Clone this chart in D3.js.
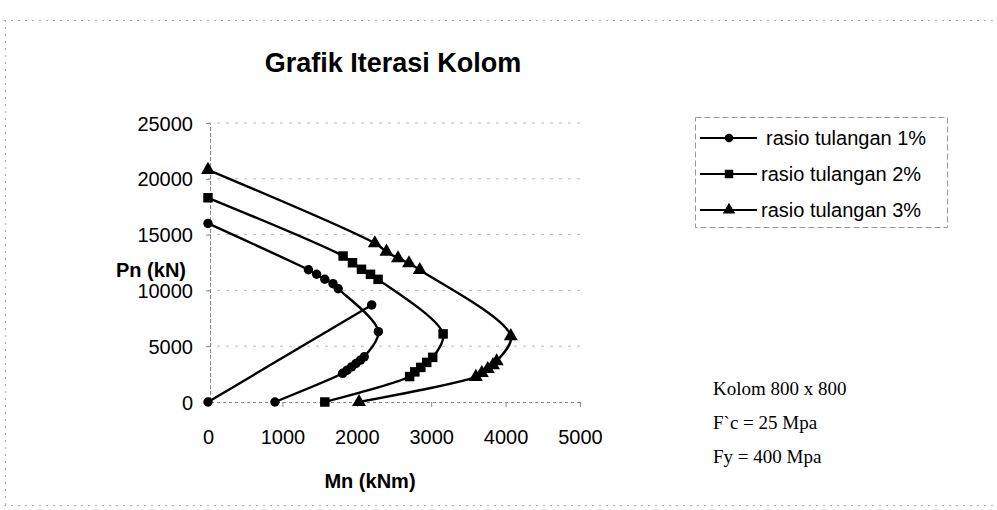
<!DOCTYPE html>
<html>
<head>
<meta charset="utf-8">
<script src="https://cdn.jsdelivr.net/npm/d3@7"></script>
<style>
  html, body { margin: 0; padding: 0; background: #fff; }
  svg { display: block; }
</style>
</head>
<body>
<svg id="chart" width="997" height="510"></svg>
<script>
// ---- Data (Mn in kNm, Pn in kN) ----
const seriesNames = ["rasio tulangan 1%", "rasio tulangan 2%", "rasio tulangan 3%"];
const series1Mn = [0, 1350, 1460, 1570, 1680, 1750, 2290, 2100, 2050, 1990, 1930, 1870, 1810, 900];
const series1Pn = [16000, 11850, 11450, 11000, 10600, 10150, 6300, 4050, 3750, 3450, 3150, 2850, 2570, 0];
const series1bMn = [0, 2200];
const series1bPn = [0, 8700];
const series2Mn = [0, 1816, 1942, 2063, 2184, 2286, 3160, 3020, 2940, 2860, 2780, 2710, 1570];
const series2Pn = [18300, 13080, 12480, 11890, 11440, 10990, 6100, 4000, 3550, 3100, 2700, 2280, 0];
const series3Mn = [0, 2242, 2399, 2554, 2702, 2846, 4070, 3880, 3830, 3760, 3680, 3600, 2030];
const series3Pn = [20800, 14220, 13470, 12880, 12430, 11830, 5900, 3650, 3300, 2950, 2600, 2250, 0];
const xTicks = [0, 1000, 2000, 3000, 4000, 5000];
const yTicks = [0, 5000, 10000, 15000, 20000, 25000];
const titleText = "Grafik Iterasi Kolom";
const xLabel = "Mn (kNm)";
const yLabel = "Pn (kN)";
const noteLines = ["Kolom 800 x 800", "F`c = 25 Mpa", "Fy = 400 Mpa"];

const zip = (a, b) => a.map((v, i) => [v, b[i]]);

const svg = d3.select("#chart");
const x = d3.scaleLinear().domain([0, 5000]).range([208, 580]);
const y = d3.scaleLinear().domain([0, 25000]).range([402, 123]);

// outer faint chart border (scanned look)
const border = svg.append("g").attr("stroke", "#aaa").attr("stroke-width", 1)
  .attr("stroke-dasharray", "2,5").attr("fill", "none");
border.append("line").attr("x1", 4).attr("x2", 995).attr("y1", 20.5).attr("y2", 20.5);
border.append("line").attr("x1", 5.5).attr("x2", 5.5).attr("y1", 20).attr("y2", 505);
border.append("line").attr("x1", 4).attr("x2", 995).attr("y1", 505.5).attr("y2", 505.5);

// gridlines
svg.append("g").selectAll("line").data(yTicks.filter(d => d > 0)).join("line")
  .attr("x1", x(0)).attr("x2", x(5000))
  .attr("y1", d => y(d)).attr("y2", d => y(d))
  .attr("stroke", "#bbb").attr("stroke-width", 1).attr("stroke-dasharray", "3,6");

// axes
const xAxis = d3.axisBottom(x).tickValues(xTicks).tickSize(4).tickFormat(d3.format("d"));
const yAxis = d3.axisLeft(y).tickValues(yTicks).tickSize(4).tickFormat(d3.format("d"));

const gx = svg.append("g").attr("transform", `translate(0,${y(0)})`).call(xAxis);
gx.select(".domain").attr("stroke", "#888").attr("stroke-dasharray", "3,3");
gx.selectAll(".tick line").attr("stroke", "#888").attr("y2", 5);
gx.selectAll(".tick text").attr("font-family", "Liberation Sans, Arial, sans-serif")
  .attr("font-size", 20).attr("fill", "#000").attr("dy", "0").attr("y", 42);

const gy = svg.append("g").attr("transform", `translate(${x(0) + 2},0)`).call(yAxis);
gy.select(".domain").attr("stroke", "#888").attr("stroke-dasharray", "4,2");
gy.selectAll(".tick line").attr("stroke", "#888");
gy.selectAll(".tick text").attr("font-family", "Liberation Sans, Arial, sans-serif")
  .attr("font-size", 20).attr("fill", "#000").attr("x", -17).attr("dy", "0.35em");

// lines
const line = d3.line().x(d => x(d[0])).y(d => y(d[1])).curve(d3.curveCatmullRom.alpha(0.5));
const data1 = zip(series1Mn, series1Pn);
const data1b = zip(series1bMn, series1bPn);
const data2 = zip(series2Mn, series2Pn);
const data3 = zip(series3Mn, series3Pn);

const lines = svg.append("g").attr("fill", "none").attr("stroke", "#000").attr("stroke-width", 2.4);
[data1, data1b, data2, data3].forEach(d => lines.append("path").datum(d).attr("d", line));

// markers
const sym = [d3.symbolCircle, d3.symbolSquare, d3.symbolTriangle];
const sizes = [70, 90, 85];
const markerSets = [[data1, 0], [data1b, 0], [data2, 1], [data3, 2]];
const mk = svg.append("g").attr("fill", "#000");
markerSets.forEach(([d, k]) => {
  mk.selectAll(null).data(d).join("path")
    .attr("transform", p => `translate(${x(p[0])},${y(p[1])})`)
    .attr("d", d3.symbol().type(sym[k]).size(sizes[k]));
});

// title
svg.append("text").attr("x", 393).attr("y", 72).attr("text-anchor", "middle")
  .attr("font-family", "Liberation Sans, Arial, sans-serif").attr("font-weight", "bold")
  .attr("font-size", 27).text(titleText);

// axis labels
svg.append("text").attr("x", 186).attr("y", 277).attr("text-anchor", "end")
  .attr("font-family", "Liberation Sans, Arial, sans-serif").attr("font-weight", "bold")
  .attr("font-size", 20).text(yLabel);
svg.append("text").attr("x", 370).attr("y", 488).attr("text-anchor", "middle")
  .attr("font-family", "Liberation Sans, Arial, sans-serif").attr("font-weight", "bold")
  .attr("font-size", 20).text(xLabel);

// legend
const lg = svg.append("g");
lg.append("rect").attr("x", 695.5).attr("y", 117.5).attr("width", 252).attr("height", 110)
  .attr("fill", "none").attr("stroke", "#999").attr("stroke-dasharray", "6,3");
const legY = [138, 174, 210];
seriesNames.forEach((name, i) => {
  lg.append("line").attr("x1", 700).attr("x2", 757).attr("y1", legY[i]).attr("y2", legY[i])
    .attr("stroke", "#000").attr("stroke-width", 2);
  lg.append("path").attr("transform", `translate(729,${legY[i]})`)
    .attr("d", d3.symbol().type(sym[i]).size(sizes[i] * 0.8)).attr("fill", "#000");
  lg.append("text").attr("x", i === 0 ? 766 : 761).attr("y", legY[i]).attr("dy", "0.35em")
    .attr("font-family", "Liberation Sans, Arial, sans-serif").attr("font-size", 20)
    .text(name);
});

// notes
svg.append("g").selectAll("text").data(noteLines).join("text")
  .attr("x", 713).attr("y", (d, i) => 395 + i * 34)
  .attr("font-family", "Liberation Serif, Times New Roman, serif").attr("font-size", 19)
  .text(d => d);
</script>
</body>
</html>
